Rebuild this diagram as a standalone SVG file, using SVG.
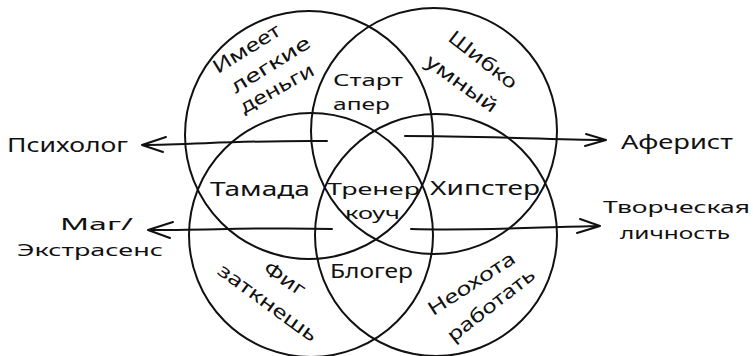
<svg xmlns="http://www.w3.org/2000/svg" width="753" height="356" viewBox="0 0 753 356">
<style>
.c{fill:none;stroke:#111;stroke-width:2}
.a{fill:none;stroke:#111;stroke-width:2;stroke-linecap:round;stroke-linejoin:round}
text{font-family:"Noto Sans","DejaVu Sans",sans-serif;font-size:19px;fill:#111}
.s{font-size:17px}
.m{text-anchor:middle}
</style>
<rect width="753" height="356" fill="#fff"/>
<g id="circle-money"><circle class="c" cx="309" cy="135" r="124"/>
<text class="m" transform="translate(250,54) rotate(-32)" textLength="76" lengthAdjust="spacingAndGlyphs">Имеет</text>
<text class="m" transform="translate(274,70) rotate(-32)" textLength="90" lengthAdjust="spacingAndGlyphs">легкие</text>
<text class="m" transform="translate(280,94) rotate(-29)" textLength="82" lengthAdjust="spacingAndGlyphs">деньги</text></g>
<g id="circle-smart"><circle class="c" cx="434" cy="131" r="123"/>
<text class="m" transform="translate(479,65) rotate(38)" textLength="82" lengthAdjust="spacingAndGlyphs">Шибко</text>
<text class="m" transform="translate(458,89) rotate(36)" textLength="84" lengthAdjust="spacingAndGlyphs">умный</text></g>
<g id="circle-fig"><circle class="c" cx="311" cy="235" r="122"/>
<text class="m" transform="translate(281,284) rotate(34)" textLength="46" lengthAdjust="spacingAndGlyphs">Фиг</text>
<text class="m" transform="translate(264,308) rotate(36)" textLength="118" lengthAdjust="spacingAndGlyphs">заткнешь</text></g>
<g id="circle-lazy"><circle class="c" cx="436" cy="235" r="121"/>
<text class="m" transform="translate(475,289) rotate(-33)" textLength="100" lengthAdjust="spacingAndGlyphs">Неохота</text>
<text class="m" transform="translate(495,310) rotate(-38)" textLength="106" lengthAdjust="spacingAndGlyphs">работать</text></g>
<g id="startaper"><text class="s" x="333" y="86" textLength="70" lengthAdjust="spacingAndGlyphs">Старт</text>
<text class="s" x="333" y="110" textLength="57" lengthAdjust="spacingAndGlyphs">апер</text></g>
<g id="tamada"><text x="210" y="196" textLength="100" lengthAdjust="spacingAndGlyphs">Тамада</text></g>
<g id="trener"><text class="s" x="327" y="195" textLength="93" lengthAdjust="spacingAndGlyphs">Тренер</text>
<text class="s" x="345" y="219" textLength="55" lengthAdjust="spacingAndGlyphs">коуч</text></g>
<g id="hipster"><text x="430" y="195" textLength="110" lengthAdjust="spacingAndGlyphs">Хипстер</text></g>
<g id="bloger"><text x="330" y="278" textLength="83" lengthAdjust="spacingAndGlyphs">Блогер</text></g>
<g id="psiholog"><text x="7" y="152" textLength="121" lengthAdjust="spacingAndGlyphs">Психолог</text></g>
<g id="aferist"><text x="621" y="149" textLength="112" lengthAdjust="spacingAndGlyphs">Аферист</text></g>
<g id="mag"><text class="s" x="60" y="230" textLength="73" lengthAdjust="spacingAndGlyphs">Маг/</text>
<text class="s" x="17" y="256" textLength="146" lengthAdjust="spacingAndGlyphs">Экстрасенс</text></g>
<g id="tvorch"><text class="s" x="603" y="213" textLength="147" lengthAdjust="spacingAndGlyphs">Творческая</text>
<text class="s" x="620" y="239" textLength="110" lengthAdjust="spacingAndGlyphs">личность</text></g>
<g id="connectors">
<path class="a" d="M327,141 C260,140 200,144 142,145 M166,137 L142,145 L163,152"/>
<path class="a" d="M405,136 C470,136 540,139 606,140 M586,134 L606,140 L585,146"/>
<path class="a" d="M332,229 C270,227 210,230 148,230 M173,222 L148,230 L170,238"/>
<path class="a" d="M411,229 C480,231 540,227 600,226 M580,219 L600,226 L577,233"/>
</g>
</svg>
